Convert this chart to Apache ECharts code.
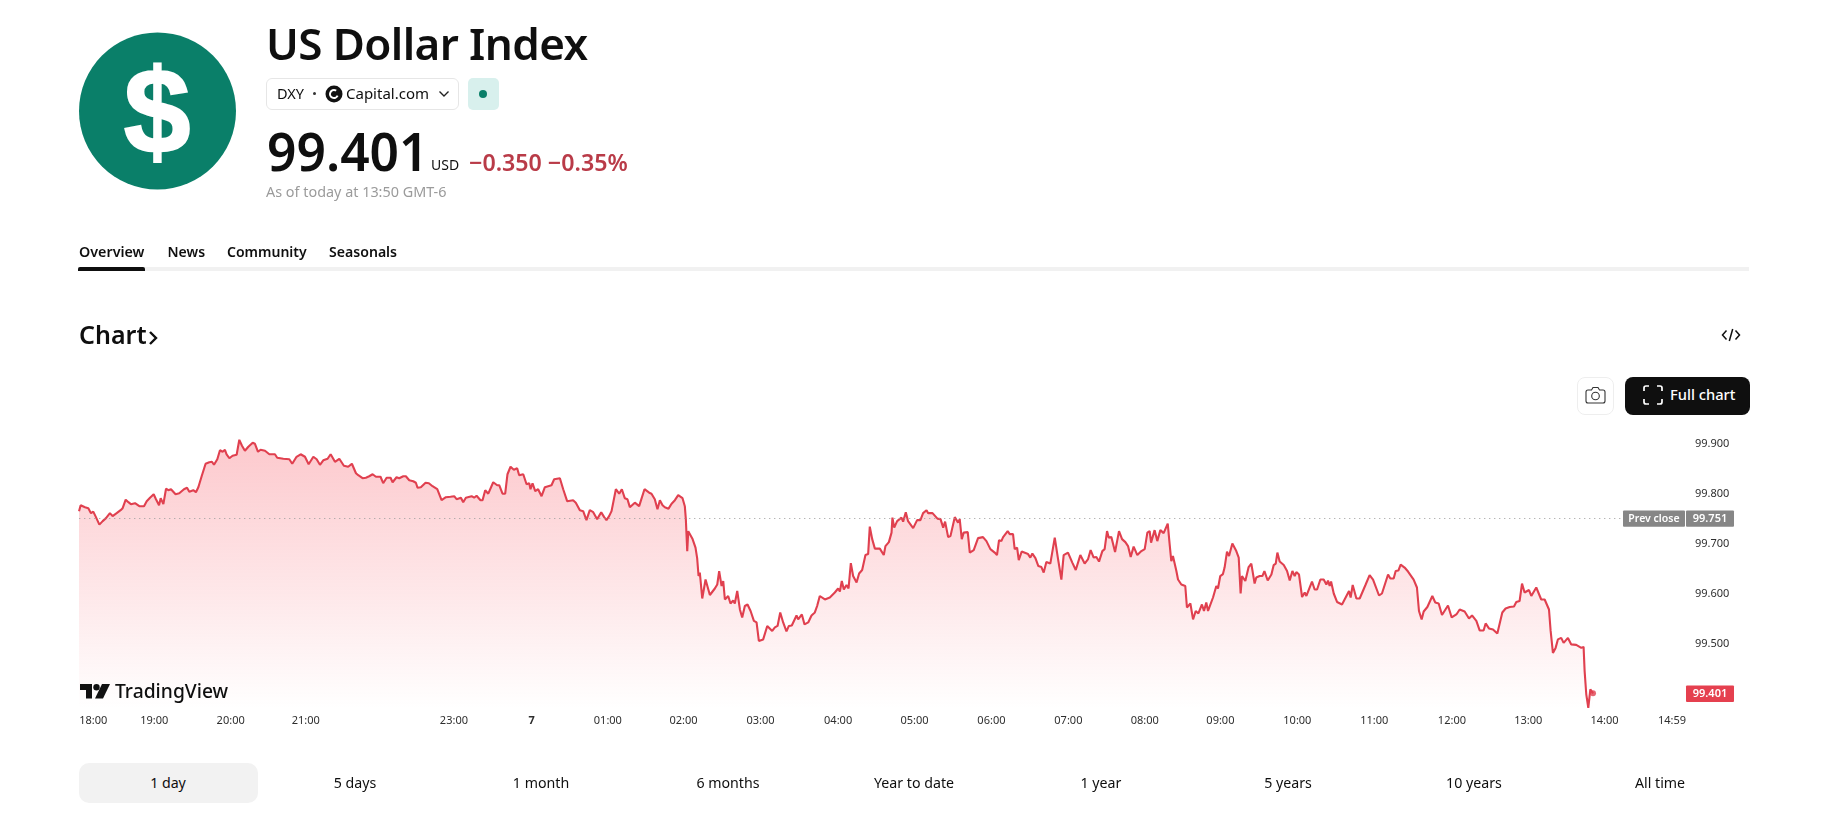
<!DOCTYPE html>
<html><head><meta charset="utf-8"><title>US Dollar Index</title>
<script src="https://cdn.jsdelivr.net/npm/echarts@6/dist/echarts.min.js"></script>
<style>
html,body{margin:0;padding:0;background:#fff;width:1821px;height:831px;overflow:hidden}
body{font-family:"Noto Sans",sans-serif;color:#0f0f0f;position:relative}
#chart{position:absolute;left:0;top:0;width:1821px;height:831px}
.t{position:absolute;white-space:nowrap;line-height:1;z-index:2}
.b{position:absolute;box-sizing:border-box;z-index:1}
svg{position:absolute;z-index:2}
</style></head><body>
<div id="chart"></div>

<svg style="left:79px;top:32px" width="157" height="158" viewBox="0 0 157 158"><circle cx="78.5" cy="79" r="78.5" fill="#0a7f69"/></svg>
<div class="t" style="left:157px;top:111px;transform:translate(-50%,-50%);font:700 120px 'Liberation Sans';-webkit-text-stroke:2px #fff;color:#fff;z-index:3">$</div>
<div class="t" id="title" style="left:266px;top:21px;font-size:44px;font-weight:600;letter-spacing:-0.6px">US Dollar Index</div>

<div class="b" style="left:266px;top:78px;width:193px;height:32px;border:1px solid #e6e6e6;border-radius:6px"></div>
<div class="t" style="left:277px;top:86px;font-size:14.5px">DXY</div>
<div class="b" style="left:313px;top:92px;width:3px;height:3px;border-radius:50%;background:#333"></div>
<svg style="left:325px;top:85px" width="18" height="18" viewBox="0 0 18 18"><circle cx="9" cy="9" r="8.5" fill="#111"/><circle cx="9" cy="9" r="4" fill="none" stroke="#fff" stroke-width="2" stroke-dasharray="19 6" transform="rotate(25 9 9)"/></svg>
<div class="t" style="left:346px;top:86px;font-size:15px">Capital.com</div>
<svg style="left:438px;top:90px" width="12" height="8" viewBox="0 0 12 8"><path d="M1.5 1.5 L6 6 L10.5 1.5" fill="none" stroke="#222" stroke-width="1.4"/></svg>
<div class="b" style="left:468px;top:78px;width:31px;height:32px;border-radius:5px;background:#d8f0ed"></div>
<div class="b" style="left:479px;top:90px;width:8px;height:8px;border-radius:50%;background:#0a7f69;z-index:2"></div>

<div class="t" style="left:267px;top:126px;font-size:51.5px;font-weight:600">99.401</div>
<div class="t" style="left:431px;top:158px;font-size:14px">USD</div>
<div class="t" style="left:469px;top:151px;font-size:23.2px;font-weight:600;color:#b93b48">−0.350 −0.35%</div>
<div class="t" style="left:266px;top:185px;font-size:14.4px;color:#9b9b9b">As of today at 13:50 GMT-6</div>

<div class="t" style="left:79px;top:245px;font-size:14.3px;font-weight:600">Overview</div>
<div class="t" style="left:167.500px;top:245px;font-size:14px;font-weight:600">News</div>
<div class="t" style="left:227px;top:245px;font-size:14px;font-weight:600">Community</div>
<div class="t" style="left:329px;top:245px;font-size:14.1px;font-weight:600">Seasonals</div>
<div class="b" style="left:78px;top:267px;width:1671px;height:4px;background:#f1f1f1"></div>
<div class="b" style="left:78px;top:267px;width:67px;height:4px;background:#0f0f0f;border-radius:2px 2px 0 0;z-index:2"></div>

<div class="t" style="left:79px;top:322px;font-size:25px;font-weight:600">Chart</div>
<svg style="left:148px;top:330px" width="11" height="16" viewBox="0 0 11 16"><path d="M2 2 L8 8 L2 14" fill="none" stroke="#0f0f0f" stroke-width="2.4"/></svg>
<svg style="left:1721px;top:326px" width="20" height="18" viewBox="0 0 20 18"><path d="M5.5 4.5 L1.5 9 L5.5 13.5 M14.500 4.500 L18.500 9 L14.500 13.500 M11.700 3 L8.300 15" fill="none" stroke="#111" stroke-width="1.5"/></svg>

<div class="b" style="left:1577px;top:377px;width:37px;height:38px;border:1px solid #eeeeee;border-radius:8px"></div>
<svg style="left:1585px;top:386px" width="21" height="18" viewBox="0 0 21 18"><path d="M3 4 H6.500 L8 1.500 H13 L14.500 4 H18 Q20 4 20 6 V15 Q20 17 18 17 H3 Q1 17 1 15 V6 Q1 4 3 4 Z" fill="none" stroke="#333" stroke-width="1.1"/><circle cx="10.500" cy="10" r="3.800" fill="none" stroke="#333" stroke-width="1.1"/></svg>
<div class="b" style="left:1625px;top:377px;width:125px;height:38px;background:#0f0f0f;border-radius:8px"></div>
<svg style="left:1643px;top:385px" width="20" height="20" viewBox="0 0 20 20"><path d="M1 6 V3 Q1 1 3 1 H6 M14 1 H17 Q19 1 19 3 V6 M19 14 V17 Q19 19 17 19 H14 M6 19 H3 Q1 19 1 17 V14" fill="none" stroke="#fff" stroke-width="1.7"/></svg>
<div class="t" style="left:1670px;top:387px;font-size:14.7px;font-weight:500;color:#fff">Full chart</div>

<svg style="left:80px;top:684px" width="30" height="15" viewBox="0 0 30 15"><path d="M0 0 H12 V14.500 H6 V6 H0 Z" fill="#111"/><circle cx="16.500" cy="3.200" r="3.200" fill="#111"/><path d="M22 0 H30 L23 14.500 H15 Z" fill="#111"/></svg>
<div class="t" style="left:115px;top:681px;font-size:19.3px;font-weight:500">TradingView</div>

<div class="b" style="left:79px;top:763px;width:179px;height:40px;background:#f2f2f2;border-radius:10px"></div>
<div class="t range" style="left:168px">1 day</div>
<div class="t range" style="left:355px">5 days</div>
<div class="t range" style="left:541px">1 month</div>
<div class="t range" style="left:728px">6 months</div>
<div class="t range" style="left:914px">Year to date</div>
<div class="t range" style="left:1101px">1 year</div>
<div class="t range" style="left:1288px">5 years</div>
<div class="t range" style="left:1474px">10 years</div>
<div class="t range" style="left:1660px">All time</div>
<style>.range{top:776px;font-size:14.2px;transform:translateX(-50%)}</style>

<script>
// Bar-time position of each traced price, in minutes after 18:00 on the chart's skip-gap time scale
const minutes = [
0.8,2.1,5.5,8.1,10.2,12.0,14.1,16.8,19.4,22.0,25.1,27.2,30.4,33.5,35.1,37.5,39.6,41.6,44.8,48.2,51.9,54.0,56.6,59.5,61.3,63.7,65.0,67.1,69.2,71.0,73.1,76.7,79.6,83.3,85.7,87.5,90.6,92.7,94.6,97.2,100.3,103.2,105.3,106.9,109.5,111.6,113.7,115.5,116.8,119.0,121.5,124.7,126.8,128.9,131.2,133.9,137.3,139.1,141.5,143.5,147.0,150.4,154.8,156.6,161.4,166.1,168.4,171.8,175.0,178.4,181.3,185.0,187.6,190.2,192.8,196.2,198.6,202.0,205.4,209.0,212.4,215.3,218.5,220.3,
221.6,223.7,226.3,228.9,231.6,234.2,237.8,239.9,242.6,245.7,247.3,250.4,252.5,255.7,257.7,260.4,263.5,265.6,266.9,269.5,270.8,273.2,275.8,278.7,282.4,285.8,289.2,292.8,295.7,297.6,301.0,302.8,304.9,309.4,311.4,313.3,316.4,318.0,320.1,322.5,326.4,329.5,331.1,333.7,335.8,337.6,340.0,342.6,345.2,346.8,350.0,352.6,354.7,355.7,357.3,359.4,361.7,364.4,367.0,368.3,372.2,374.3,378.8,381.4,384.5,389.2,391.3,394.5,397.1,399.7,402.3,405.0,408.1,411.3,413.6,415.4,417.5,419.4,422.8,425.4,427.5,429.8,431.9,433.8,437.7,441.1,445.3,449.0,450.8,453.4,455.5,
457.4,459.5,461.3,462.6,464.2,466.6,469.2,471.8,475.2,477.0,477.8,478.9,479.7,481.0,483.1,485.4,486.7,487.8,488.8,490.7,493.3,494.6,496.7,500.6,502.5,504.0,505.9,507.2,508.5,511.1,512.9,515.0,516.3,518.2,520.3,522.1,524.2,526.3,528.7,531.3,533.4,535.2,538.6,541.8,543.3,545.7,547.8,549.9,552.0,554.3,556.9,558.8,561.1,564.8,566.1,569.0,571.1,574.0,576.6,579.2,581.0,583.1,587.1,591.0,594.9,597.5,598.9,600.4,602.0,604.1,605.7,607.5,609.3,612.0,614.0,616.4,619.0,621.1,622.4,624.3,626.4,630.3,633.4,634.7,637.4,639.5,640.2,641.6,643.9,647.3,648.6,650.7,652.5,653.9,656.5,659.6,662.2,664.3,667.0,668.3,671.7,675.6,678.0,680.1,681.6,684.0,685.8,689.2,691.8,
693.1,694.7,696.2,699.4,701.0,704.1,707.5,711.4,714.1,717.2,720.6,722.4,724.0,725.8,727.2,730.8,732.4,735.0,736.3,738.2,739.5,741.8,746.8,748.6,750.2,752.6,754.9,757.3,759.1,761.2,764.3,767.8,770.4,771.7,773.0,774.8,778.2,781.6,782.7,784.3,787.9,791.3,794.0,796.0,798.4,800.5,802.6,805.2,807.0,808.9,810.2,812.3,815.2,818.3,820.7,823.3,825.4,827.5,829.8,832.7,835.9,838.5,840.6,842.4,843.5,846.3,848.4,850.8,853.4,856.6,858.1,859.4,860.7,863.4,864.7,867.3,870.4,871.7,874.4,876.5,878.6,880.7,883.5,885.1,886.9,888.3,892.2,894.8,896.1,897.9,900.0,901.3,903.2,904.8,907.4,910.5,912.4,913.9,915.0,917.6,920.2,922.3,924.9,926.2,
928.9,931.0,932.6,935.2,938.1,939.9,941.5,942.8,944.6,947.8,950.4,952.5,954.6,956.4,957.7,959.8,962.2,964.3,965.6,970.0,972.1,974.0,976.6,979.2,981.3,982.6,983.9,985.0,987.1,989.7,993.6,999.1,1000.4,1002.0,1004.9,1007.5,1012.2,1015.3,1018.0,1022.7,1025.0,1029.8,1031.6,1034.2,1035.8,1037.9,1039.7,1042.8,1045.5,1046.8,1049.9,1052.5,1054.1,1056.2,1057.8,1060.7,1064.6,1066.9,1069.6,1072.2,1076.9,1079.8,1083.5,1086.1,1090.0,1093.4,1095.8,1099.2,1101.8,1104.9,1106.5,1109.1,1112.3,1115.7,1119.6,1122.2,1125.4,1128.8,1130.6,1133.2,1135.1,1137.1,1140.6,1142.4,1146.3,1150.2,1152.9,1156.3,1157.6,1159.4,1161.5,1163.3,
1165.9,1167.8,1171.2,1173.8,1177.7,1181.7,1183.5,1184.3,1185.6,1187.2,1188.8,1190.9
];
const prices = [
99.766,99.778,99.774,99.772,99.762,99.765,99.754,99.739,99.746,99.752,99.762,99.756,99.762,99.768,99.772,99.789,99.784,99.780,99.782,99.776,99.776,99.786,99.793,99.800,99.790,99.778,99.792,99.780,99.811,99.808,99.810,99.800,99.802,99.810,99.813,99.805,99.808,99.804,99.814,99.836,99.861,99.864,99.865,99.859,99.870,99.888,99.885,99.889,99.880,99.872,99.877,99.879,99.909,99.897,99.887,99.895,99.903,99.901,99.885,99.889,99.887,99.880,99.880,99.873,99.871,99.870,99.861,99.875,99.880,99.875,99.860,99.875,99.870,99.859,99.868,99.871,99.880,99.865,99.871,99.857,99.855,99.861,99.842,99.838,
99.838,99.832,99.833,99.836,99.840,99.835,99.835,99.822,99.833,99.833,99.824,99.834,99.832,99.836,99.836,99.828,99.826,99.823,99.813,99.814,99.810,99.823,99.822,99.816,99.810,99.788,99.794,99.795,99.796,99.790,99.793,99.784,99.793,99.796,99.793,99.797,99.788,99.788,99.808,99.801,99.824,99.818,99.818,99.801,99.801,99.840,99.855,99.849,99.852,99.838,99.840,99.820,99.822,99.810,99.822,99.806,99.810,99.796,99.814,99.810,99.818,99.830,99.832,99.810,99.786,99.788,99.783,99.768,99.766,99.748,99.768,99.764,99.750,99.764,99.754,99.748,99.756,99.766,99.810,99.801,99.810,99.792,99.790,99.774,99.783,99.776,99.810,99.803,99.801,99.790,99.770,
99.788,99.778,99.774,99.778,99.771,99.781,99.788,99.798,99.792,99.776,99.750,99.686,99.726,99.728,99.710,99.693,99.672,99.636,99.643,99.591,99.629,99.629,99.598,99.611,99.619,99.646,99.616,99.626,99.589,99.596,99.581,99.587,99.581,99.606,99.569,99.553,99.576,99.579,99.566,99.546,99.543,99.506,99.509,99.536,99.538,99.526,99.533,99.536,99.563,99.543,99.525,99.536,99.537,99.557,99.549,99.559,99.539,99.543,99.557,99.563,99.576,99.596,99.589,99.593,99.603,99.611,99.605,99.626,99.609,99.618,99.611,99.662,99.636,99.623,99.641,99.648,99.678,99.680,99.735,99.710,99.691,99.691,99.678,99.696,99.704,99.723,99.753,99.733,99.746,99.753,99.745,99.764,99.746,99.748,99.732,99.748,99.748,99.762,99.768,99.762,99.762,99.751,99.750,99.733,99.745,99.714,99.716,99.754,99.743,
99.750,99.710,99.723,99.724,99.683,99.688,99.712,99.714,99.706,99.690,99.683,99.678,99.708,99.706,99.714,99.726,99.720,99.720,99.690,99.693,99.668,99.685,99.680,99.673,99.681,99.672,99.656,99.654,99.643,99.664,99.661,99.713,99.670,99.666,99.629,99.678,99.683,99.663,99.666,99.648,99.678,99.661,99.670,99.688,99.673,99.674,99.665,99.686,99.690,99.726,99.713,99.714,99.684,99.726,99.710,99.704,99.696,99.674,99.695,99.678,99.686,99.690,99.723,99.726,99.703,99.728,99.706,99.728,99.722,99.741,99.700,99.666,99.676,99.646,99.629,99.619,99.616,99.573,99.581,99.549,99.566,99.561,99.579,99.566,99.583,99.566,99.593,99.616,99.611,99.636,99.640,99.653,99.685,99.676,99.701,99.686,99.673,99.601,99.636,99.626,99.654,99.661,99.621,99.633,
99.636,99.636,99.646,99.627,99.639,99.658,99.661,99.683,99.665,99.658,99.646,99.627,99.646,99.636,99.644,99.639,99.594,99.603,99.596,99.625,99.609,99.609,99.629,99.629,99.619,99.627,99.616,99.625,99.601,99.584,99.579,99.606,99.593,99.618,99.591,99.591,99.619,99.638,99.629,99.597,99.601,99.639,99.631,99.631,99.646,99.647,99.659,99.653,99.645,99.647,99.629,99.613,99.566,99.549,99.565,99.574,99.596,99.583,99.581,99.558,99.577,99.553,99.559,99.569,99.565,99.551,99.557,99.546,99.527,99.527,99.541,99.531,99.529,99.521,99.563,99.571,99.574,99.575,99.584,99.586,99.621,99.603,99.608,99.596,99.613,99.589,99.589,99.569,99.526,99.482,99.492,99.509,
99.512,99.502,99.512,99.499,99.498,99.492,99.494,99.446,99.399,99.372,99.409,99.401
];
const prevClose = 99.751;
const lastPrice = 99.401;
const priceTicks = [99.5, 99.6, 99.7, 99.8, 99.9];
const timeTickValues = [12,60,120,179,295.5,356.5,416.5,476,536.5,597.5,657.5,718,778.5,838.5,898,958.5,1019,1080,1140,1200,1253];
const timeTickLabels = ['18:00','19:00','20:00','21:00','23:00','7','01:00','02:00','03:00','04:00','05:00','06:00','07:00','08:00','09:00','10:00','11:00','12:00','13:00','14:00','14:59'];
const prevCloseLabel = 'Prev close';

const series = minutes.map((m, i) => [m, prices[i]]);
const chart = echarts.init(document.getElementById('chart'), null, {renderer:'canvas'});
const axisFont = '"Noto Sans",sans-serif';
chart.setOption({
  animation:false,
  backgroundColor:'transparent',
  grid:{left:78, top:419.35, width:1608, height:289.42, containLabel:false},
  xAxis:{type:'value', min:0, max:1264, axisLine:{show:false}, axisTick:{show:false}, splitLine:{show:false},
    axisLabel:{customValues:timeTickValues, margin:7, fontSize:11, color:'#2e2e2e', fontFamily:axisFont,
      formatter:(v)=>{const s=timeTickLabels[timeTickValues.indexOf(v)]||''; return s==='7'?'{d|7}':s;},
      rich:{d:{fontWeight:700,fontSize:11,color:'#2e2e2e',fontFamily:axisFont}}}},
  yAxis:{type:'value', position:'right', min:99.37, max:99.95, axisLine:{show:false}, axisTick:{show:false}, splitLine:{show:false},
    axisLabel:{customValues:priceTicks, margin:9, padding:[2,0,0,0], fontSize:11, color:'#2e2e2e', fontFamily:axisFont, formatter:(v)=>v.toFixed(3)}},
  series:[
    {type:'line', data:series, symbol:'none', smooth:false, lineStyle:{color:'#e0404f',width:2.1},
     areaStyle:{origin:'start', color:{type:'linear',x:0,y:0,x2:0,y2:1,colorStops:[{offset:0,color:'rgba(247,82,95,0.45)'},{offset:1,color:'rgba(247,82,95,0.0)'}]}},
     markLine:{silent:true, symbol:'none', label:{show:false}, lineStyle:{color:'#9a9a9a',type:[1,4],width:1},
       data:[[{coord:[1,prevClose]},{coord:[1213,prevClose]}]]}},
    {type:'scatter', data:[series[series.length-1]], symbolSize:6, itemStyle:{color:'#e0404f'}, silent:true}
  ]
});
// price badges positioned through the axis scale
const yPrev = chart.convertToPixel({yAxisIndex:0}, prevClose);
const yLast = chart.convertToPixel({yAxisIndex:0}, lastPrice);
const badge = (x,w,y,fill,text,size)=>({type:'group',children:[
  {type:'rect',shape:{x:x,y:y-8.2,width:w,height:16.4,r:1},style:{fill:fill}},
  {type:'text',style:{x:x+w/2,y:y,text:text,fill:'#fff',font:'600 '+size+'px "Noto Sans"',align:'center',verticalAlign:'middle'}}
]});
chart.setOption({graphic:[
  badge(1623,62,yPrev,'#868686',prevCloseLabel,10.5),
  badge(1686,48,yPrev,'#868686',prevClose.toFixed(3),11),
  badge(1686,48,yLast+0.5,'#e5404f',lastPrice.toFixed(3),11)
]});
</script>
</body></html>
